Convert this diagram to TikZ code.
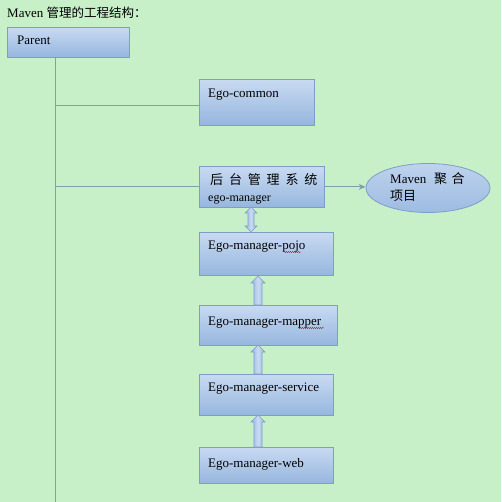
\documentclass[tikz,border=0pt]{standalone}
\usepackage{fontspec}
\setmainfont{Liberation Serif}
\newfontfamily\cjk{Noto Sans CJK SC}
\usetikzlibrary{shapes.geometric,shadings,calc,arrows.meta,decorations.pathmorphing}
\definecolor{bgc}{RGB}{200,240,200}
\definecolor{boxtop}{RGB}{200,218,242}
\definecolor{boxbot}{RGB}{150,182,222}
\definecolor{boxline}{RGB}{125,158,200}
\definecolor{linec}{RGB}{128,160,168}
\tikzset{
  box/.style={draw=boxline, line width=0.8pt, top color=boxtop, bottom color=boxbot, inner sep=0pt, anchor=north west},
  lbl/.style={anchor=base west, inner sep=0pt, font=\fontsize{13}{15}\selectfont},
  conn/.style={draw=linec, line width=0.8pt},
  blk/.style={draw=boxline, line width=0.6pt, left color=boxbot, right color=boxbot, middle color=boxtop},
  squig/.style={draw=red, line width=0.4pt, decorate, decoration={snake, amplitude=0.6pt, segment length=2pt}}
}
\newcommand{\uparrowblk}[3]{% x, ybottom, ytop
  \path[blk] (#1-4,#2) -- (#1-4,#3+7) -- (#1-7,#3+7) -- (#1,#3) -- (#1+7,#3+7) -- (#1+4,#3+7) -- (#1+4,#2) -- cycle;}
\begin{document}
\begin{tikzpicture}[x=1pt,y=-1pt]
\useasboundingbox (0,0) rectangle (501,502);
\fill[bgc] (0,0) rectangle (501,502);
% title
\node[lbl] (title) at (7,18) {Maven {\cjk\fontsize{12.5}{14}\selectfont 管理的工程结构：}};
% boxes
\node[box, minimum width=122pt, minimum height=30pt] (parent) at (7,27) {};
\node[lbl] (parentl) at (17,45) {Parent};
\node[box, minimum width=115pt, minimum height=46pt] (common) at (199,79) {};
\node[lbl] (commonl) at (208,98) {Ego-common};
\node[box, minimum width=125pt, minimum height=41pt] (manager) at (199,166) {};
\node[lbl] (managerl1) at (210,185) {\cjk 后\hspace{0.45em}台\hspace{0.45em}管\hspace{0.45em}理\hspace{0.45em}系\hspace{0.45em}统};
\node[lbl, font=\fontsize{12}{14}\selectfont] (managerl2) at (208,202) {ego-manager};
\node[ellipse, draw=boxline, line width=0.8pt, top color=boxtop!80!boxbot, bottom color=boxbot!85!boxtop, minimum width=124pt, minimum height=49pt, inner sep=0pt] (maven) at (428,188) {};
\node[lbl] (mavenl1) at (390,184) {Maven\hspace{0.6em}{\cjk 聚\hspace{0.35em}合}};
\node[lbl] (mavenl2) at (390,201) {\cjk 项目};
\node[box, minimum width=134pt, minimum height=43pt] (pojo) at (199,232) {};
\node[lbl] (pojol) at (208,249) {Ego-manager-pojo};
\node[box, minimum width=138pt, minimum height=40pt] (mapper) at (199,305) {};
\node[lbl] (mapperl) at (208,325) {Ego-manager-mapper};
\node[box, minimum width=134pt, minimum height=41pt] (service) at (199,374) {};
\node[lbl] (servicel) at (208,391) {Ego-manager-service};
\node[box, minimum width=134pt, minimum height=36pt] (web) at (199,447) {};
\node[lbl] (webl) at (208,467) {Ego-manager-web};
% spell-check squiggles
\path[squig] (284,252) -- (301,252);
\path[squig] (298,328) -- (324,328);
% trunk and branches
\coordinate (ttop) at (55,57);
\coordinate (tend) at (55,502);
\coordinate (b1) at (55,105);
\coordinate (b2) at (55,186);
\draw[conn] (ttop) -- (tend);
\draw[conn] (b1) -- (b1 -| common.west);
\draw[conn] (b2) -- (b2 -| manager.west);
% arrow to ellipse
\draw[conn, -{Stealth[length=7pt,width=6pt]}] (manager.east) -- (manager.east -| maven.west);
% double block arrow
\path[blk] (248,213) -- (245,213) -- (251,207) -- (257,213) -- (254,213) -- (254,226) -- (257,226) -- (251,232) -- (245,226) -- (248,226) -- cycle;
% block arrows
\uparrowblk{258}{305}{276}
\uparrowblk{258}{374}{345}
\uparrowblk{258}{447}{415}
\end{tikzpicture}
\end{document}
